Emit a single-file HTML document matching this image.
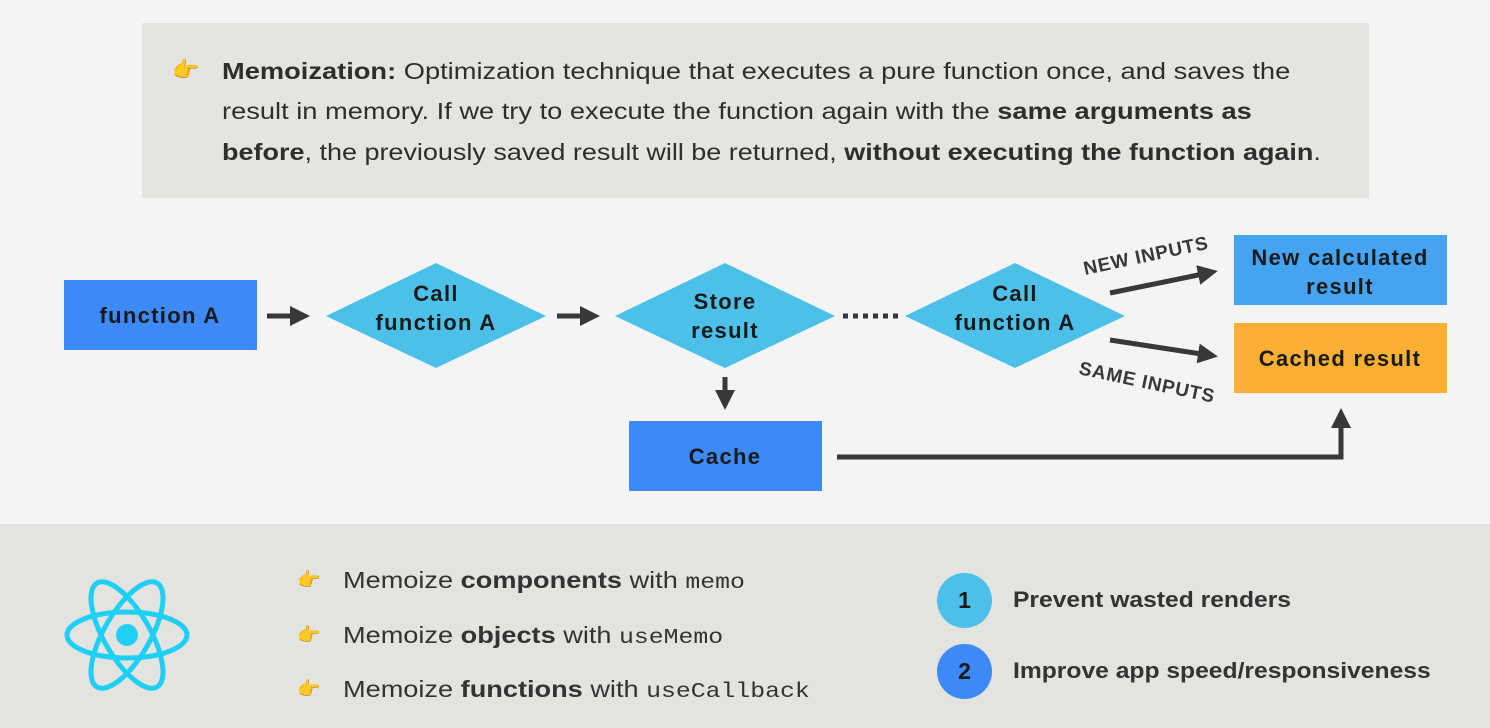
<!DOCTYPE html>
<html><head><meta charset="utf-8"><style>
body{margin:0;width:1490px;height:728px;background:#f4f4f4;overflow:hidden;font-family:"Liberation Sans",sans-serif;color:#2e2e2e;position:relative}
.top{position:absolute;left:142px;top:23px;width:1227px;height:175px;background:#e4e4e0}
.tl{position:absolute;left:222px;font-size:23.5px;white-space:nowrap;transform:scaleX(1.16);transform-origin:0 0}
.band{position:absolute;left:0;top:524px;width:1490px;height:204px;background:#e3e3e0}
.b{position:absolute;font-size:23px;white-space:nowrap;color:#333;transform-origin:0 0}
code{font-family:"Liberation Mono",monospace;font-size:21px}
</style></head><body>
<div class="top"></div>
<div class="tl" style="left:172px;top:57px;font-size:22px;transform:none">👉</div>
<div class="tl" style="top:58px"><b>Memoization:</b> Optimization technique that executes a pure function once, and saves the</div>
<div class="tl" style="top:98px">result in memory. If we try to execute the function again with the <b>same arguments as</b></div>
<div class="tl" style="top:139px;transform:scaleX(1.148)"><b>before</b>, the previously saved result will be returned, <b>without executing the function again</b>.</div>

<svg width="1490" height="728" style="position:absolute;left:0;top:0" font-family="Liberation Sans, sans-serif" font-weight="bold" fill="#1a1a1a" letter-spacing="1.3">
<defs><marker id="a" markerWidth="4" markerHeight="4" refX="2" refY="2" orient="auto" markerUnits="strokeWidth"><path d="M0,0L4,2L0,4z" fill="#383838"/></marker></defs>
<rect x="64" y="280" width="193" height="70" fill="#3d8af7"/>
<text x="160" y="323" text-anchor="middle" font-size="22">function A</text>
<g stroke="#383838" stroke-width="5" fill="none">
<line x1="267" y1="316" x2="300" y2="316" marker-end="url(#a)"/>
<line x1="557" y1="316" x2="590" y2="316" marker-end="url(#a)"/>
<line x1="725" y1="377" x2="725" y2="400" marker-end="url(#a)"/>
<line x1="843" y1="316" x2="900" y2="316" stroke-dasharray="5,5"/>
<line x1="1110" y1="293" x2="1208" y2="273" marker-end="url(#a)"/>
<line x1="1110" y1="340" x2="1208" y2="355" marker-end="url(#a)"/>
<polyline points="837,457 1341,457 1341,418" marker-end="url(#a)"/>
</g>
<polygon points="326,316 436,263 546,316 436,368" fill="#4cc0e8"/>
<text x="436" y="301" text-anchor="middle" font-size="22">Call</text>
<text x="436" y="330" text-anchor="middle" font-size="22">function A</text>
<polygon points="615,316 725,263 835,316 725,368" fill="#4cc0e8"/>
<text x="725" y="309" text-anchor="middle" font-size="22">Store</text>
<text x="725" y="338" text-anchor="middle" font-size="22">result</text>
<polygon points="905,316 1015,263 1125,316 1015,368" fill="#4cc0e8"/>
<text x="1015" y="301" text-anchor="middle" font-size="22">Call</text>
<text x="1015" y="330" text-anchor="middle" font-size="22">function A</text>
<rect x="1234" y="235" width="213" height="70" fill="#44a4f2"/>
<text x="1340" y="265" text-anchor="middle" font-size="22">New calculated</text>
<text x="1340" y="294" text-anchor="middle" font-size="22">result</text>
<rect x="1234" y="323" width="213" height="70" fill="#fbb034"/>
<text x="1340" y="366" text-anchor="middle" font-size="22">Cached result</text>
<rect x="629" y="421" width="193" height="70" fill="#3d8af7"/>
<text x="725" y="464" text-anchor="middle" font-size="22">Cache</text>
<text x="1085" y="275" font-size="19" fill="#383838" letter-spacing="0.8" transform="rotate(-12 1085 275)">NEW INPUTS</text>
<text x="1078" y="374" font-size="19" fill="#383838" letter-spacing="0.8" transform="rotate(12 1078 374)">SAME INPUTS</text>
</svg>

<div class="band"></div>
<svg width="160" height="160" style="position:absolute;left:47px;top:555px" viewBox="-80 -80 160 160">
<g fill="none" stroke="#1ed0f5" stroke-width="5">
<ellipse rx="60" ry="23"/><ellipse rx="60" ry="23" transform="rotate(60)"/><ellipse rx="60" ry="23" transform="rotate(-60)"/></g>
<circle r="11" fill="#1ed0f5"/></svg>
<div class="b" style="left:297px;top:568px;font-size:19px">👉</div>
<div class="b" style="left:297px;top:623px;font-size:19px">👉</div>
<div class="b" style="left:297px;top:677px;font-size:19px">👉</div>
<div class="b" style="left:343px;top:567px;transform:scaleX(1.18)">Memoize <b>components</b> with <code>memo</code></div>
<div class="b" style="left:343px;top:622px;transform:scaleX(1.18)">Memoize <b>objects</b> with <code>useMemo</code></div>
<div class="b" style="left:343px;top:676px;transform:scaleX(1.18)">Memoize <b>functions</b> with <code>useCallback</code></div>
<div style="position:absolute;left:937px;top:573px;width:55px;height:55px;border-radius:50%;background:#4cc0e8;font:bold 23px 'Liberation Sans';text-align:center;line-height:55px;color:#1a1a1a">1</div>
<div style="position:absolute;left:937px;top:644px;width:55px;height:55px;border-radius:50%;background:#3d8af7;font:bold 23px 'Liberation Sans';text-align:center;line-height:55px;color:#1a1a1a">2</div>
<div class="b" style="left:1013px;top:587px;font-weight:bold;font-size:22px;transform:scaleX(1.12)">Prevent wasted renders</div>
<div class="b" style="left:1013px;top:658px;font-weight:bold;font-size:22px;transform:scaleX(1.12)">Improve app speed/responsiveness</div>
</body></html>
